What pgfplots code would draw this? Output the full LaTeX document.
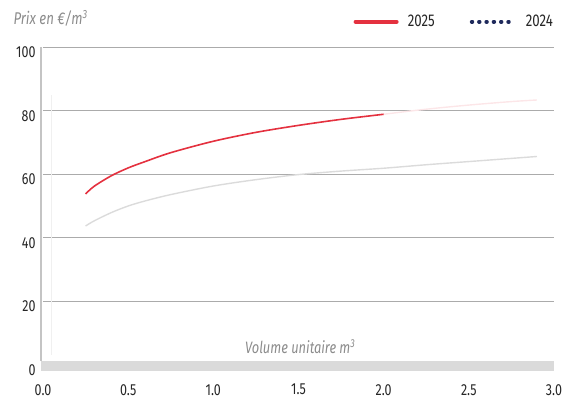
\documentclass[border=0pt]{standalone}
\usepackage{pgfplots}
\pgfplotsset{compat=1.18}
\usepackage{fontspec}
\setmainfont{Fira Sans}[FakeStretch=0.78]
\definecolor{red25}{HTML}{E4313F}
\definecolor{navy24}{HTML}{1F2A5C}
\definecolor{gridgray}{HTML}{ABABAB}
\definecolor{bandgray}{HTML}{DADADA}
\definecolor{txtgray}{HTML}{8C8C8C}

\begin{document}
\begin{tikzpicture}
\begin{axis}[
    scale only axis, width=511pt, height=317.4pt,
    xmin=0, xmax=3, ymin=0, ymax=100,
    clip=false,
    axis line style={draw=none},
    tick style={draw=none},
    xtick={0,0.5,...,3.0},
    ytick={0,20,...,100},
    ymajorgrids,
    grid style={gridgray, line width=0.9pt},
    xticklabel style={yshift=-16pt, font=\fontsize{16}{16}\selectfont, text=black!85},
    yticklabel style={yshift=-5pt, xshift=-4pt, font=\fontsize{16}{16}\selectfont, text=black!85},
    /pgf/number format/.cd, fixed, assume math mode=true,
    /pgfplots/.cd,
    xticklabel={\pgfmathprintnumber[fixed, fixed zerofill, precision=1]{\tick}},
    legend columns=2,
    legend style={draw=none, fill=none, inner sep=0pt, outer sep=0pt,
        at={(rel axis cs:0.998,1.0806)}, anchor=east,
        font=\fontsize{17}{17}\selectfont, text=black!85,
        nodes={inner sep=0pt}, column sep=9pt,
        /tikz/every even column/.append style={column sep=35pt}},
]
\coordinate (O) at (rel axis cs:0,0);
% band at the foot and the left rule
\fill[bandgray] (axis cs:-0.012,-2.1) rectangle (axis cs:3,1.1);
\draw[gridgray!70, line width=1.2pt] (axis cs:-0.012,1.1) -- (axis cs:-0.012,100);
\draw[black!6, line width=0.8pt] (axis cs:0.05,3) -- (axis cs:0.05,85);

\node[txtgray, font=\fontsize{16.5}{16.5}\selectfont\itshape] at (axis cs:1.51,5.6) {Volume unitaire m\textsuperscript{3}};

% 2024 (light grey)
\addplot[forget plot, smooth, color=black!14, line width=1.4pt] coordinates {
 (0.25,43.7) (0.3,45.3) (0.4,47.9) (0.5,50.0) (0.6,51.6) (0.75,53.6)
 (1.0,56.3) (1.25,58.3) (1.5,59.9) (1.75,61.0) (2.0,61.9) (2.25,63.0)
 (2.5,64.0) (2.75,65.0) (2.9,65.6)};
% 2025 faint continuation
\addplot[forget plot, smooth, color=red25!12, line width=1.4pt] coordinates {
 (2.0,78.9) (2.25,80.5) (2.5,81.8) (2.75,82.9) (2.9,83.4)};
% 2025
\addplot[forget plot, smooth, color=red25, line width=1.6pt] coordinates {
 (0.25,53.8) (0.3,56.2) (0.4,59.5) (0.5,62.0) (0.6,64.0) (0.75,66.8)
 (1.0,70.4) (1.25,73.2) (1.5,75.4) (1.75,77.3) (2.0,78.9)};

\addlegendimage{legend image code/.code={
    \draw[red25, line width=4pt, line cap=round] (2pt,0pt) -- (43pt,0pt);
    \path (0pt,0pt) (45pt,0pt);}}
\addlegendentry{2025}
\addlegendimage{legend image code/.code={
    \draw[navy24, line width=3.6pt, line cap=round, dash pattern=on 0.8pt off 6.5pt] (1.5pt,0pt) -- (45pt,0pt);
    \path (0pt,0pt) (45pt,0pt);}}
\addlegendentry{2024}
\end{axis}
\begin{scope}[shift={(O)}, x=1pt, y=1pt]
\node[anchor=west, txtgray, font=\fontsize{17}{17}\selectfont\itshape] at (-33,346) {Prix en €/m\textsuperscript{3}};
\pgfresetboundingbox
\path[use as bounding box] (-43,-35.3) rectangle (523,364.7);
\end{scope}
\end{tikzpicture}
\end{document}
